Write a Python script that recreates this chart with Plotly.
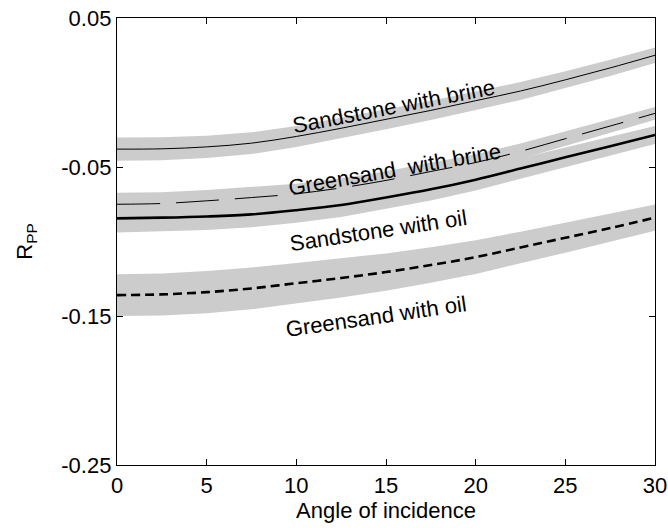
import plotly.graph_objects as go

# Incidence angle (degrees)
angle = [0, 2.5, 5, 7.5, 10, 12.5, 15, 17.5, 20, 22.5, 25, 27.5, 30]

# P-P reflection coefficient for each reservoir case
sandstone_brine = [-0.038, -0.0378, -0.0365, -0.034, -0.0295, -0.024, -0.018,
                   -0.012, -0.0055, 0.001, 0.0085, 0.0165, 0.025]
greensand_brine = [-0.075, -0.0745, -0.0727, -0.0705, -0.068, -0.064, -0.059,
                   -0.053, -0.047, -0.0395, -0.031, -0.0225, -0.014]
sandstone_oil = [-0.0845, -0.084, -0.0832, -0.0818, -0.079, -0.0755, -0.0705,
                 -0.065, -0.0585, -0.051, -0.0435, -0.036, -0.0285]
greensand_oil = [-0.136, -0.1355, -0.134, -0.1315, -0.128, -0.1245, -0.1205,
                 -0.1158, -0.1105, -0.104, -0.0975, -0.091, -0.084]

# Half-width of the uncertainty band around each curve
sandstone_brine_unc = [0.0078, 0.0077, 0.0075, 0.0073, 0.0071, 0.0069, 0.0067,
                       0.0065, 0.0062, 0.0060, 0.0057, 0.0054, 0.0052]
greensand_brine_unc = [0.0078, 0.0076, 0.0073, 0.0070, 0.0067, 0.0064, 0.0061,
                       0.0058, 0.0055, 0.0052, 0.0049, 0.0046, 0.0043]
sandstone_oil_unc = [0.0095, 0.0093, 0.0090, 0.0087, 0.0084, 0.0081, 0.0078,
                     0.0075, 0.0072, 0.0069, 0.0066, 0.0063, 0.0060]
greensand_oil_unc = [0.0140, 0.0141, 0.0142, 0.0140, 0.0136, 0.0131, 0.0125,
                     0.0119, 0.0113, 0.0106, 0.0100, 0.0094, 0.0088]

x_ticks = [0, 5, 10, 15, 20, 25, 30]
y_ticks = [-0.25, -0.15, -0.05, 0.05]
y_tick_labels = ["-0.25", "-0.15", "-0.05", "0.05"]

labels = [
    # text, x, y, angle
    ("Sandstone with brine", 15.4, -0.0095, -11),
    ("Greensand  with brine", 15.45, -0.0515, -10),
    ("Sandstone with oil", 14.6, -0.0925, -8.5),
    ("Greensand with oil", 14.45, -0.150, -8.2),
]

FONT = "Liberation Sans, Arial, Helvetica, sans-serif"
BAND = "#cccccc"

series = [
    (sandstone_brine, sandstone_brine_unc, dict(color="black", width=1)),
    (greensand_brine, greensand_brine_unc, dict(color="black", width=1, dash="43px,16px")),
    (sandstone_oil, sandstone_oil_unc, dict(color="black", width=2.6)),
    (greensand_oil, greensand_oil_unc, dict(color="black", width=2.6, dash="9px,5px")),
]

fig = go.Figure()

# Gray uncertainty bands first, so the curves sit on top
for values, unc, _ in series:
    upper = [v + u for v, u in zip(values, unc)]
    lower = [v - u for v, u in zip(values, unc)]
    fig.add_trace(go.Scatter(
        x=angle + angle[::-1], y=upper + lower[::-1],
        fill="toself", fillcolor=BAND, line=dict(width=0),
        mode="lines", hoverinfo="skip", showlegend=False,
    ))

for values, _, line in series:
    fig.add_trace(go.Scatter(
        x=angle, y=values, mode="lines", line=dict(shape="spline", **line),
        showlegend=False,
    ))

for text, lx, ly, ang in labels:
    fig.add_annotation(
        x=lx, y=ly, text=text, textangle=ang, showarrow=False,
        xanchor="center", yanchor="middle",
        font=dict(family=FONT, size=22, color="black"),
    )

axis_common = dict(
    showgrid=False, zeroline=False, showline=True, linecolor="black",
    linewidth=1.3, mirror="ticks", ticks="inside", ticklen=6,
    tickwidth=1, tickcolor="black", automargin=False,
    tickfont=dict(family=FONT, size=22, color="black"),
)

fig.update_xaxes(
    range=[0, 30], tickvals=x_ticks,
    title=dict(text="Angle of incidence", standoff=4,
               font=dict(family=FONT, size=22, color="black")),
    **axis_common,
)
fig.update_yaxes(
    range=[-0.25, 0.05], tickvals=y_ticks, ticktext=y_tick_labels,
    title=dict(text="R<sub>PP</sub>", standoff=22,
               font=dict(family=FONT, size=22, color="black")),
    **axis_common,
)

fig.update_layout(
    template="none",
    width=668, height=528,
    margin=dict(l=117, r=13, t=18, b=63),
    paper_bgcolor="white", plot_bgcolor="white",
)

fig.write_html("out.html")
